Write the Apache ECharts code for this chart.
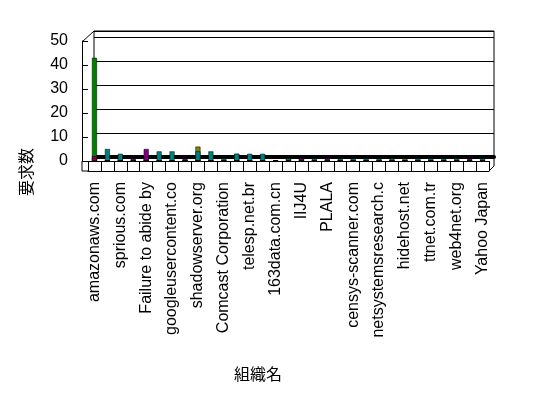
<!DOCTYPE html>
<html lang="ja">
<head>
<meta charset="UTF-8">
<script src="https://cdn.jsdelivr.net/npm/echarts@6.0.0/dist/echarts.min.js"></script>
<title>組織別 要求数</title>
<style>
  html, body { margin: 0; padding: 0; background: #fff; }
</style>
</head>
<body>
<div id="main" style="width:548px;height:398px;"></div>
<script>
// categories (only every other one is labelled in the original chart)
var orgs = [
  'amazonaws.com', '', 'sprious.com', '', 'Failure to abide by', '',
  'googleusercontent.co', '', 'shadowserver.org', '', 'Comcast Corporation', '',
  'telesp.net.br', '', '163data.com.cn', '', 'IIJ4U', '', 'PLALA', '',
  'censys-scanner.com', '', 'netsystemsresearch.c', '', 'hidehost.net', '',
  'ttnet.com.tr', '', 'web4net.org', '', 'Yahoo Japan'
];

// request counts per series
var greenVals  = [43,0,0,0,0,0,0,0,0,0,0,0,0,0,0,1,0,0,0,0,0,0,0,0,0,0,0,0,0,0,0];
var oliveVals  = [0,0,1,0,1,0,0,0,6,0,0,0,0,0,0,0,0,0,0,0,0,0,0,0,1,0,0,0,0,0,0];
var grayVals   = [0,0,0,0,0,0,0,0,0,0,0,3,0,0,0,0,0,0,0,0,0,0,0,0,0,0,0,0,0,0,0];
var tealVals   = [0,5,3,0,0,4,4,0,4,4,1,3,3,3,0,1,1,1,0,1,1,1,1,1,0,1,1,1,1,0,1];
var purpleVals = [2,0,0,1,5,0,0,1,0,0,0,0,0,0,0,0,1,0,1,0,0,0,0,0,0,0,0,0,0,1,0];
var redVals    = [1,0,0,0,0,0,0,0,0,0,0,0,0,0,0,0,0,0,0,0,0,0,0,0,0,0,0,0,0,0,0];

var yTicks = [0, 10, 20, 30, 40, 50];

var chart = echarts.init(document.getElementById('main'));

function barSeries(name, data, color) {
  return {
    name: name,
    type: 'bar',
    xAxisIndex: 0,
    yAxisIndex: 0,
    data: data,
    barWidth: 5,
    barGap: '-100%',
    z: 5,
    itemStyle: { color: color, borderColor: '#000', borderWidth: 0.5 },
    emphasis: { disabled: true }
  };
}

var txt = { color: '#000', fontFamily: 'Liberation Sans', fontSize: 16 };

chart.setOption({
  animation: false,
  backgroundColor: '#fff',
  grid: [
    // front plane
    { left: 88, right: 59, top: 41, bottom: 237 },
    // back wall
    { left: 94, right: 54, top: 31, bottom: 241, show: true, borderColor: '#000', borderWidth: 1 }
  ],
  xAxis: [
    {
      type: 'category', gridIndex: 0, data: orgs, boundaryGap: true,
      axisLine: { lineStyle: { color: '#000', width: 1 } },
      axisTick: { show: true, length: 10, interval: 0, lineStyle: { color: '#000' } },
      axisLabel: Object.assign({ interval: 1, rotate: 90, margin: 21 }, txt)
    },
    {
      // bottom edge of the floor slab
      type: 'category', gridIndex: 0, data: orgs, position: 'bottom', offset: 10,
      axisLine: { lineStyle: { color: '#000' } },
      axisTick: { show: false }, axisLabel: { show: false }
    },
    {
      // floor top face
      type: 'category', gridIndex: 1, data: orgs, offset: 2,
      axisLine: { lineStyle: { color: '#000', width: 4 } },
      axisTick: { show: false }, axisLabel: { show: false }
    }
  ],
  yAxis: [
    {
      type: 'value', gridIndex: 0, min: 0, max: yTicks[yTicks.length - 1], interval: 10,
      offset: 6,
      axisLine: { show: true, lineStyle: { color: '#000' } },
      axisTick: { show: true, inside: true, length: 6, lineStyle: { color: '#000' } },
      splitLine: { show: false },
      axisLabel: Object.assign({ margin: 14 }, txt)
    },
    {
      type: 'value', gridIndex: 1, min: 0, max: 52.5, interval: 10,
      axisLine: { show: false }, axisTick: { show: false }, axisLabel: { show: false },
      splitLine: { show: true, lineStyle: { color: '#000', width: 1 } }
    }
  ],
  series: [
    barSeries('green', greenVals, '#008000'),
    barSeries('olive', oliveVals, '#808000'),
    barSeries('gray', grayVals, '#808080'),
    barSeries('teal', tealVals, '#008080'),
    barSeries('purple', purpleVals, '#800080'),
    barSeries('red', redVals, '#c00040')
  ],
  graphic: [
    {
      type: 'polyline', z: 1, silent: true,
      shape: { points: [[82, 42], [94, 31]] },
      style: { stroke: '#000', fill: null, lineWidth: 1 }
    },
    {
      type: 'polyline', z: 1, silent: true,
      shape: { points: [[82, 161], [82, 171], [88, 171]] },
      style: { stroke: '#000', fill: null, lineWidth: 1 }
    },
    {
      type: 'polyline', z: 1, silent: true,
      shape: { points: [[489, 171], [494, 166], [494, 157]] },
      style: { stroke: '#000', fill: null, lineWidth: 1 }
    },
    {
      type: 'text', left: 18, top: 148, rotation: Math.PI / 2, silent: true,
      style: { text: '要求数', fill: '#000', font: '16px "Noto Sans CJK JP"' }
    },
    {
      type: 'text', left: 234, top: 366, silent: true,
      style: { text: '組織名', fill: '#000', font: '16px "Noto Sans CJK JP"' }
    }
  ]
});
</script>
</body>
</html>
